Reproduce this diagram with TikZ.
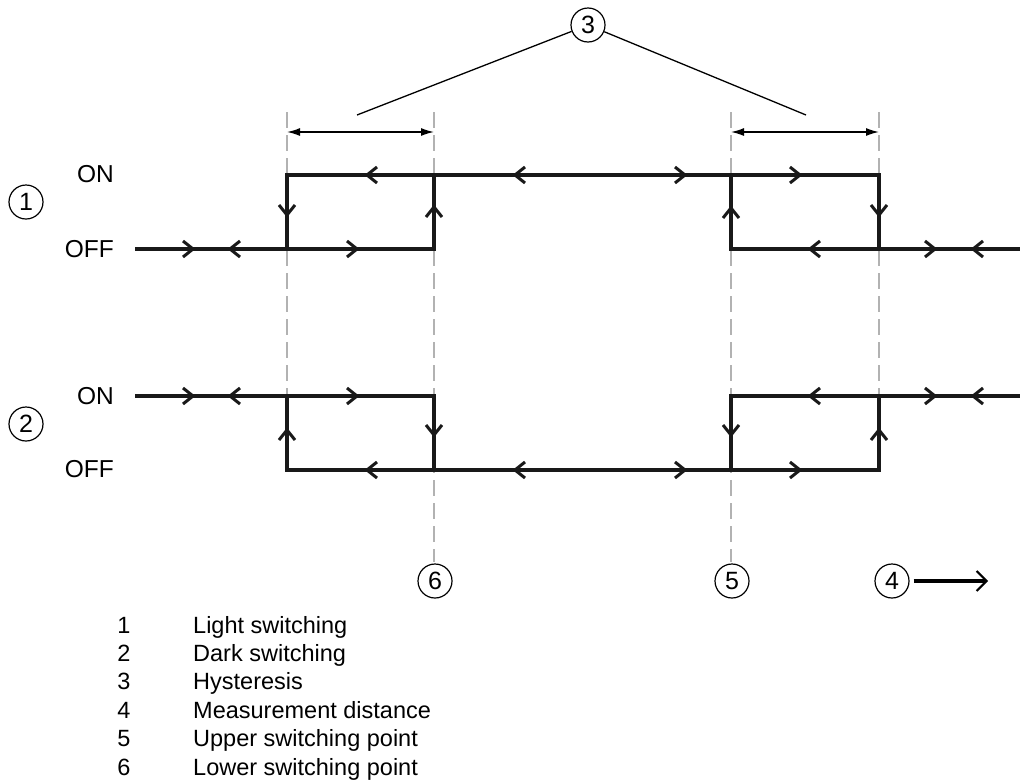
\documentclass[tikz,border=0pt]{standalone}
\usepackage{fontspec}
\setmainfont{Liberation Sans}
\usetikzlibrary{arrows.meta}
\begin{document}
\begin{tikzpicture}[x=1pt,y=-1pt,
  sig/.style={line width=4pt, line join=miter, draw=black!90},
  chevst/.style={line width=3pt, line cap=butt, line join=miter, draw=black!90},
  guide/.style={draw=black!30, line width=1.4pt, dash pattern=on 16pt off 7pt},
  dimarrow/.style={line width=1.5pt, {Latex[length=13pt,width=8pt]}-{Latex[length=13pt,width=8pt]}},
  callout/.style={draw, circle, line width=1.2pt, minimum size=34pt, inner sep=0pt, font=\fontsize{25}{25}\selectfont},
  lvl/.style={font=\fontsize{24.5}{24.5}\selectfont, anchor=east, inner sep=0pt},
  legnum/.style={font=\fontsize{23.5}{23.5}\selectfont, inner sep=0pt, anchor=base},
  legtxt/.style={font=\fontsize{23.5}{23.5}\selectfont, inner sep=0pt, anchor=base west},
  lead/.style={line width=1.3pt},
  chev/.pic={\draw[chevst] (-10,8) -- (0,0) -- (-10,-8);}
]
\useasboundingbox (0,0) rectangle (1022,782);

% guide lines
\draw[guide] (287,112) -- (287,396);
\draw[guide] (434,112) -- (434,562);
\draw[guide] (731,112) -- (731,562);
\draw[guide] (879,112) -- (879,396);

% signal 1 (light switching)
\draw[sig] (135,249) -- (434,249) -- (434,175);
\draw[sig] (287,249) -- (287,175) -- (879,175) -- (879,249) -- (1020,249);
\draw[sig] (731,175) -- (731,249) -- (879,249);

% signal 2 (dark switching)
\draw[sig] (135,396) -- (434,396) -- (434,470);
\draw[sig] (287,396) -- (287,470) -- (879,470) -- (879,396) -- (1020,396);
\draw[sig] (731,470) -- (731,396) -- (879,396);

% chevrons signal 1
\pic at (193,249) {chev};
\pic[rotate=180] at (230,249) {chev};
\pic at (357,249) {chev};
\pic[rotate=180] at (367,175) {chev};
\pic[rotate=180] at (515,175) {chev};
\pic at (685,175) {chev};
\pic at (800,175) {chev};
\pic[rotate=180] at (810,249) {chev};
\pic at (935,249) {chev};
\pic[rotate=180] at (973,249) {chev};
\pic[rotate=-90] at (287,215) {chev};
\pic[rotate=90] at (434,207) {chev};
\pic[rotate=90] at (731,208) {chev};
\pic[rotate=-90] at (879,215) {chev};

% chevrons signal 2
\pic at (193,396) {chev};
\pic[rotate=180] at (230,396) {chev};
\pic at (357,396) {chev};
\pic[rotate=180] at (367,470) {chev};
\pic[rotate=180] at (515,470) {chev};
\pic at (685,470) {chev};
\pic at (800,470) {chev};
\pic[rotate=180] at (810,396) {chev};
\pic at (935,396) {chev};
\pic[rotate=180] at (973,396) {chev};
\pic[rotate=90] at (287,430) {chev};
\pic[rotate=-90] at (434,435) {chev};
\pic[rotate=-90] at (731,435) {chev};
\pic[rotate=90] at (879,430) {chev};

% level labels
\node[lvl] (on1) at (114,174) {ON};
\node[lvl] (off1) at (114,249) {OFF};
\node[lvl] (on2) at (114,396) {ON};
\node[lvl] (off2) at (114,469) {OFF};

% callouts
\node[callout] (c1) at (26,202) {1};
\node[callout] (c2) at (26,424) {2};
\node[callout] (c3) at (588,25) {3};
\node[callout] (c6) at (435,581) {6};
\node[callout] (c5) at (732,581) {5};
\node[callout] (c4) at (892,581) {4};

% hysteresis leaders and dimension arrows
\coordinate (h1) at (357,115);
\coordinate (h2) at (806,115);
\draw[lead] (c3) -- (h1);
\draw[lead] (c3) -- (h2);
\coordinate (d1a) at (287,132);
\coordinate (d1b) at (434,132);
\coordinate (d2a) at (731,132);
\coordinate (d2b) at (879,132);
\draw[dimarrow] (d1a) -- (d1b);
\draw[dimarrow] (d2a) -- (d2b);

% measurement distance arrow
\coordinate (a4) at (988,581);
\draw[line width=3.5pt, shorten <=4pt, -{Straight Barb[length=10pt,width=20pt,line width=2pt]}] (c4) -- (a4);

% legend
\node[legnum] (n1) at (124,633) {1};
\node[legtxt] (t1) at (193,633) {Light switching};
\node[legnum] (n2) at (124,661.4) {2};
\node[legtxt] (t2) at (193,661.4) {Dark switching};
\node[legnum] (n3) at (124,689.8) {3};
\node[legtxt] (t3) at (193,689.8) {Hysteresis};
\node[legnum] (n4) at (124,718.2) {4};
\node[legtxt] (t4) at (193,718.2) {Measurement distance};
\node[legnum] (n5) at (124,746.6) {5};
\node[legtxt] (t5) at (193,746.6) {Upper switching point};
\node[legnum] (n6) at (124,775) {6};
\node[legtxt] (t6) at (193,775) {Lower switching point};
\end{tikzpicture}
\end{document}
